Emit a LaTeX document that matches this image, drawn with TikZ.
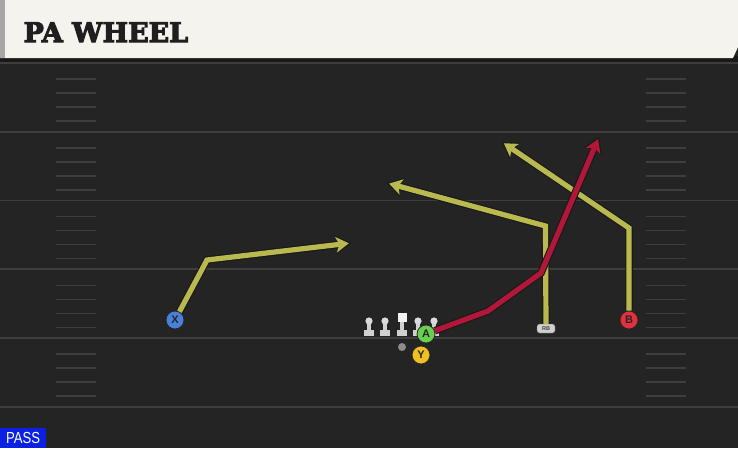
\documentclass[tikz,border=0pt]{standalone}
\usepackage{fontspec}
\usetikzlibrary{arrows.meta}
\newfontfamily\titlefont{DejaVu Serif Bold}[FakeBold=4]
\newfontfamily\labelfont{Liberation Sans}

\definecolor{field}{RGB}{36,36,36}
\definecolor{yardline}{RGB}{62,62,62}
\definecolor{header}{RGB}{245,243,237}
\definecolor{routeyellow}{RGB}{186,185,80}
\definecolor{routered}{RGB}{178,22,56}
\definecolor{xblue}{RGB}{72,128,218}
\definecolor{agreen}{RGB}{104,208,78}
\definecolor{yyellow}{RGB}{240,192,34}
\definecolor{bred}{RGB}{226,48,62}
\definecolor{passblue}{RGB}{12,32,228}
\definecolor{lineman}{RGB}{208,208,208}

\tikzset{
	player/.style = {circle,
					 draw = black!85,
					 line width = 0.8pt,
					 minimum size = 18pt,
					 inner sep = 0pt,
					 text = black!85,
					 font = \labelfont\bfseries\fontsize{11}{11}\selectfont},
	routeedge/.style = {draw = black!90,
					 line width = 7.5pt,
					 -{Stealth[length=16pt,width=20pt,inset=4.5pt,line width=0pt]}},
	route/.style = {line width = 5.2pt,
					 shorten > = 2.2pt,
					 -{Stealth[length=13pt,width=16pt,inset=3.5pt,line width=0pt]}},
}

\begin{document}
\begin{tikzpicture}[x=1pt, y=-1pt]

	\useasboundingbox (0,0) rectangle (738,448);
	\fill[field] (0,0) rectangle (738,448);

	% header bar
	\fill[black!90] (0,56) rectangle (738,62);
	\fill[header] (0,0) -- (738,0) -- (738,47) -- (733,58) -- (0,58) -- cycle;
	\fill[black!35] (0,0) rectangle (5,58);
	\draw (20,42) node[anchor = base west,
					 text = black!88,
					 font = \titlefont\fontsize{27}{27}\selectfont] (title) {PA WHEEL};

	% yard lines and hash marks
	\foreach \y in {63,131.75,200.5,269.25,338,406.75}
		\draw[yardline, line width = 1.6pt] (0,\y) -- (738,\y);
	\foreach \y in {63,131.75,200.5,269.25,338}
		\foreach \k in {1,...,4} {
			\draw[yardline, line width = 1.5pt] (56,\y+14*\k+2) -- (96,\y+14*\k+2);
			\draw[yardline, line width = 1.5pt] (646,\y+14*\k+2) -- (686,\y+14*\k+2);
		}

	% offensive line
	\foreach \x in {369,385,418,434} {
		\fill[lineman] (\x-5,329.5) rectangle (\x+5,336);
		\fill[lineman] (\x-2,321) rectangle (\x+2,331);
		\fill[lineman!80] (\x,321) circle (3.6);
	}
	\fill[lineman] (397,329.5) rectangle (407,336);
	\fill[lineman] (400,318) rectangle (404,331);
	\fill[white!95!black] (397.5,313) rectangle (406.5,322);
	\fill[black!45] (402,347) circle (4);

	% players
	\draw (175,320) node[player, fill = xblue] (X) {X};
	\draw (426,334) node[player, fill = agreen] (A) {A};
	\draw (421,355) node[player, fill = yyellow] (Y) {Y};
	\draw (629,320) node[player, fill = bred] (B) {B};
	\draw (546,328.5) node[fill = lineman,
					 draw = black!60,
					 rounded corners = 2.5pt,
					 minimum width = 18pt,
					 minimum height = 9pt,
					 inner sep = 0pt,
					 text = black!75,
					 font = \labelfont\bfseries\fontsize{5.5}{5.5}\selectfont] (RB) {RB};

	% route points
	\coordinate (xcut) at (207,260);
	\coordinate (xend) at (351,243);
	\coordinate (rbcut) at (545.5,226);
	\coordinate (rbend) at (387,183);
	\coordinate (bcut) at (629,228);
	\coordinate (bend) at (502,142);
	\coordinate (abend) at (488,311);
	\coordinate (acut) at (541,273);
	\coordinate (aend) at (599,137);

	% routes
	\draw[routeedge] (X) -- (xcut) -- (xend);
	\draw[route, routeyellow] (X) -- (xcut) -- (xend);
	\draw[routeedge] (RB) -- (rbcut) -- (rbend);
	\draw[route, routeyellow] (RB) -- (rbcut) -- (rbend);
	\draw[routeedge] (B) -- (bcut) -- (bend);
	\draw[route, routeyellow] (B) -- (bcut) -- (bend);
	\draw[routeedge] (A) -- (abend) -- (acut) -- (aend);
	\draw[route, routered] (A) -- (abend) -- (acut) -- (aend);

	% play type tag
	\draw (0,448) node[anchor = south west,
					 fill = passblue,
					 minimum width = 46pt,
					 minimum height = 20pt,
					 inner sep = 0pt,
					 text = white,
					 font = \labelfont\fontsize{16}{16}\selectfont] (pass) {\scalebox{0.82}[1]{PASS}};

\end{tikzpicture}
\end{document}
